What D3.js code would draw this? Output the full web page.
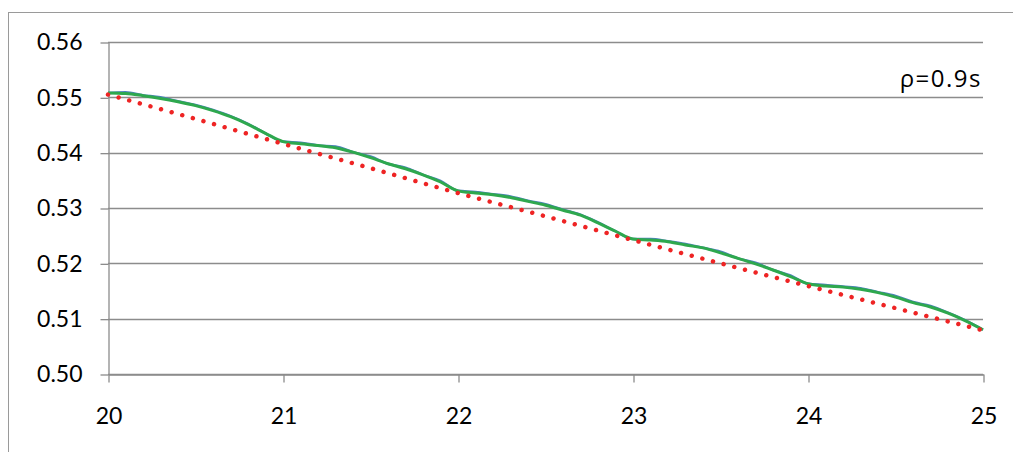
<!DOCTYPE html>
<html>
<head>
<meta charset="utf-8">
<script src="https://cdn.jsdelivr.net/npm/d3@7"></script>
<style>
  body { margin: 0; background: #fff; }
  text { font-family: Lato, "Open Sans", sans-serif; }
</style>
</head>
<body>
<svg id="chart"></svg>
<script>
// Values
const xValues = [20.0, 20.1, 20.2, 20.3, 20.4, 20.5, 20.6, 20.7, 20.8, 20.9,
                 21.0, 21.1, 21.2, 21.3, 21.4, 21.5, 21.6, 21.7, 21.8, 21.9,
                 22.0, 22.1, 22.2, 22.3, 22.4, 22.5, 22.6, 22.7, 22.8, 22.9,
                 23.0, 23.1, 23.2, 23.3, 23.4, 23.5, 23.6, 23.7, 23.8, 23.9,
                 24.0, 24.1, 24.2, 24.3, 24.4, 24.5, 24.6, 24.7, 24.8, 24.9, 25.0];

const greenValues = [0.5508, 0.5507, 0.5503, 0.5498, 0.5492, 0.5485, 0.5476, 0.5465, 0.5451, 0.5435,
                     0.5420, 0.5416, 0.5413, 0.5409, 0.5401, 0.5391, 0.5380, 0.5371, 0.5360, 0.5347,
                     0.5331, 0.5327, 0.5324, 0.5319, 0.5312, 0.5305, 0.5296, 0.5287, 0.5273, 0.5258,
                     0.5244, 0.5242, 0.5239, 0.5233, 0.5228, 0.5219, 0.5209, 0.5199, 0.5188, 0.5176,
                     0.5163, 0.5159, 0.5157, 0.5153, 0.5147, 0.5139, 0.5129, 0.5121, 0.5110, 0.5096, 0.5080];

// blue series sits almost exactly under the green one, peeking out on top
const blueValues = [0.5508, 0.5509, 0.5504, 0.5500, 0.5493, 0.5486, 0.5477, 0.5466, 0.5452, 0.5435,
                    0.5420, 0.5418, 0.5413, 0.5411, 0.5401, 0.5393, 0.5380, 0.5373, 0.5360, 0.5349,
                    0.5331, 0.5329, 0.5325, 0.5321, 0.5313, 0.5307, 0.5297, 0.5288, 0.5274, 0.5258,
                    0.5244, 0.5244, 0.5240, 0.5235, 0.5228, 0.5221, 0.5209, 0.5201, 0.5188, 0.5178,
                    0.5163, 0.5161, 0.5158, 0.5155, 0.5148, 0.5141, 0.5130, 0.5123, 0.5111, 0.5097, 0.5080];

const redX = [20.0, 20.5, 21.0, 21.5, 22.0, 22.5, 23.0, 23.5, 24.0, 24.5, 25.0];
const redValues = [0.5505, 0.5461, 0.5416, 0.5372, 0.5327, 0.5285, 0.5242, 0.5200, 0.5159, 0.5119, 0.5079];

const yTicks = [0.50, 0.51, 0.52, 0.53, 0.54, 0.55, 0.56];
const xTicks = [20, 21, 22, 23, 24, 25];
const annotation = "ρ=0.9s";

const width = 1013, height = 452;
const plot = { left: 108, right: 983, top: 42, bottom: 374 };

const svg = d3.select("#chart")
    .attr("width", width)
    .attr("height", height);

// outer chart border (runs off the right and bottom edges)
svg.append("rect")
    .attr("x", 8.5).attr("y", 12.5)
    .attr("width", 1100).attr("height", 600)
    .attr("fill", "none")
    .attr("stroke", "#9a9a9a")
    .attr("stroke-width", 1);

const x = d3.scaleLinear().domain([20, 25]).range([plot.left, plot.right]);
const y = d3.scaleLinear().domain([0.50, 0.56]).range([plot.bottom, plot.top]);

// gridlines
svg.append("g")
    .selectAll("line")
    .data(yTicks)
    .enter()
    .append("line")
    .attr("x1", plot.left).attr("x2", plot.right)
    .attr("y1", d => Math.round(y(d)) + 0.5)
    .attr("y2", d => Math.round(y(d)) + 0.5)
    .attr("stroke", "#8c8c8c")
    .attr("stroke-width", 1.3);

const yAxis = d3.axisLeft(y)
    .tickValues(yTicks)
    .tickFormat(d3.format(".2f"))
    .tickSizeInner(8)
    .tickSizeOuter(0)
    .tickPadding(18);

const xAxis = d3.axisBottom(x)
    .tickValues(xTicks)
    .tickFormat(d3.format("d"))
    .tickSizeInner(8)
    .tickSizeOuter(0)
    .tickPadding(25);

const gy = svg.append("g")
    .attr("transform", `translate(${plot.left + 0.5}, 0.5)`)
    .call(yAxis);

const gx = svg.append("g")
    .attr("transform", `translate(0.5, ${Math.round(y(0.50)) + 0.5})`)
    .call(xAxis);

[gy, gx].forEach(g => {
    g.selectAll("path, line").attr("stroke", "#8c8c8c").attr("stroke-width", 1.3);
    g.selectAll("text")
        .attr("fill", "#000")
        .style("font-size", "23px");
});

const line = d3.line()
    .x(d => x(d[0]))
    .y(d => y(d[1]))
    .curve(d3.curveMonotoneX);

svg.append("path")
    .datum(xValues.map((v, i) => [v, blueValues[i]]))
    .attr("d", line)
    .attr("fill", "none")
    .attr("stroke", "#4f81bd")
    .attr("stroke-width", 2.5);

svg.append("path")
    .datum(xValues.map((v, i) => [v, greenValues[i]]))
    .attr("d", line)
    .attr("fill", "none")
    .attr("stroke", "#2ea84e")
    .attr("stroke-width", 3);

svg.append("path")
    .datum(redX.map((v, i) => [v, redValues[i]]))
    .attr("d", line)
    .attr("fill", "none")
    .attr("stroke", "#ee2424")
    .attr("stroke-width", 4.5)
    .attr("stroke-linecap", "round")
    .attr("stroke-dasharray", "0.01 11");

svg.append("text")
    .attr("x", 982)
    .attr("y", 87)
    .attr("text-anchor", "end")
    .style("font-family", "'Open Sans', sans-serif")
    .style("font-size", "24px")
    .style("letter-spacing", "1.5px")
    .attr("fill", "#000")
    .text(annotation);
</script>
</body>
</html>
